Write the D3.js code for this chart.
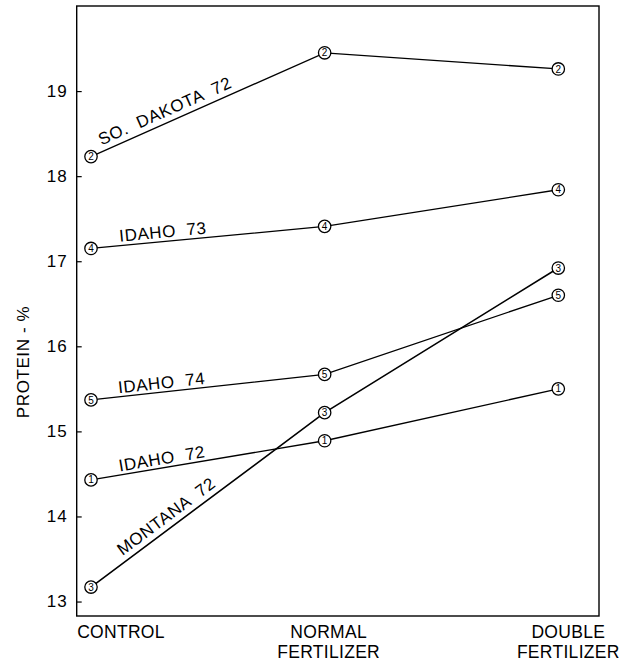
<!DOCTYPE html>
<html>
<head>
<meta charset="utf-8">
<script src="https://cdn.jsdelivr.net/npm/d3@7"></script>
<style>
  body { margin: 0; background: #fff; }
  svg text { font-family: "Liberation Sans", Arial, sans-serif; fill: #000; }
</style>
</head>
<body>
<div id="chart"></div>
<script>
// treatments along the x axis
var treatments = ["CONTROL", "NORMAL FERTILIZER", "DOUBLE FERTILIZER"];
var treatmentLines = [["CONTROL"], ["NORMAL", "FERTILIZER"], ["DOUBLE", "FERTILIZER"]];

// protein % by site
var idaho72 = [14.43, 14.89, 15.50];
var soDakota72 = [18.23, 19.45, 19.26];
var montana72 = [13.17, 15.22, 16.92];
var idaho73 = [17.15, 17.41, 17.84];
var idaho74 = [15.37, 15.67, 16.60];

var seriesNames = ["IDAHO  72", "SO.  DAKOTA  72", "MONTANA  72", "IDAHO  73", "IDAHO  74"];
var seriesMarks = ["1", "2", "3", "4", "5"];
var seriesValues = [idaho72, soDakota72, montana72, idaho73, idaho74];

var yTicks = [13, 14, 15, 16, 17, 18, 19];

var width = 623, height = 662;
var frame = {left: 76.7, right: 599, top: 6, bottom: 616};

var svg = d3.select("#chart").append("svg")
    .attr("width", width)
    .attr("height", height);

var x = d3.scalePoint()
    .domain(treatments)
    .range([91, 558.3]);

var y = d3.scaleLinear()
    .domain([12.83, 20.0])
    .range([frame.bottom, frame.top]);

// frame
svg.append("rect")
    .attr("x", frame.left)
    .attr("y", frame.top)
    .attr("width", frame.right - frame.left)
    .attr("height", frame.bottom - frame.top)
    .attr("fill", "none")
    .attr("stroke", "#000")
    .attr("stroke-width", 1.4);

var yAxis = svg.append("g")
    .attr("transform", "translate(" + frame.left + ",0)")
    .call(d3.axisLeft(y)
        .tickValues(yTicks)
        .tickSizeInner(-5)
        .tickSizeOuter(0)
        .tickPadding(9)
        .tickFormat(d3.format("d")));

yAxis.select(".domain").remove();
yAxis.selectAll(".tick line").attr("stroke", "#000").attr("stroke-width", 1.2);
yAxis.selectAll(".tick text")
    .style("font-family", "'Liberation Sans', Arial, sans-serif")
    .style("font-size", "17px")
    .attr("letter-spacing", "1px");

svg.append("text")
    .attr("transform", "translate(29,362) rotate(-90)")
    .attr("text-anchor", "middle")
    .style("font-size", "17px")
    .attr("letter-spacing", "0.6px")
    .text("PROTEIN - %");

// x labels, nudged like the original lettering
var labelShift = [30, 4, 10];
treatments.forEach(function(t, i) {
    var txt = svg.append("text")
        .attr("text-anchor", "middle")
        .style("font-size", "17.5px")
        .attr("letter-spacing", "0.3px");
    treatmentLines[i].forEach(function(line, j) {
        txt.append("tspan")
            .attr("x", x(t) + labelShift[i])
            .attr("y", 638 + j * 20)
            .text(line);
    });
});

var line = d3.line()
    .x(function(d, i) { return x(treatments[i]); })
    .y(function(d) { return y(d); });

svg.append("g").selectAll("path")
    .data(seriesValues)
    .enter().append("path")
    .attr("d", line)
    .attr("fill", "none")
    .attr("stroke", "#000")
    .attr("stroke-width", function(d, i) { return i === 2 ? 1.6 : 1.3; });

// labels along the first segment
var labelT = [0.125, 0.055, 0.15, 0.125, 0.12];
var labelOff = [3.5, 6, 6, 4, 3.5];
seriesValues.forEach(function(vals, i) {
    var x0 = x(treatments[0]), y0 = y(vals[0]);
    var x1 = x(treatments[1]), y1 = y(vals[1]);
    var px = x0 + labelT[i] * (x1 - x0), py = y0 + labelT[i] * (y1 - y0);
    var ang = Math.atan2(y1 - y0, x1 - x0) * 180 / Math.PI;
    svg.append("text")
        .attr("transform", "translate(" + px + "," + py + ") rotate(" + ang + ")")
        .attr("y", -labelOff[i])
        .style("font-size", "17px")
        .attr("letter-spacing", "0.6px")
        .style("white-space", "pre")
        .attr("xml:space", "preserve")
        .text(seriesNames[i]);
});

// numbered markers
seriesValues.forEach(function(vals, i) {
    var g = svg.append("g");
    g.selectAll("circle")
        .data(vals)
        .enter().append("circle")
        .attr("cx", function(d, j) { return x(treatments[j]); })
        .attr("cy", function(d) { return y(d); })
        .attr("r", 6.2)
        .attr("fill", "#fff")
        .attr("stroke", "#000")
        .attr("stroke-width", 1.3);
    g.selectAll("text")
        .data(vals)
        .enter().append("text")
        .attr("x", function(d, j) { return x(treatments[j]); })
        .attr("y", function(d) { return y(d) + 3.6; })
        .attr("text-anchor", "middle")
        .style("font-size", "10px")
        .text(seriesMarks[i]);
});
</script>
</body>
</html>
